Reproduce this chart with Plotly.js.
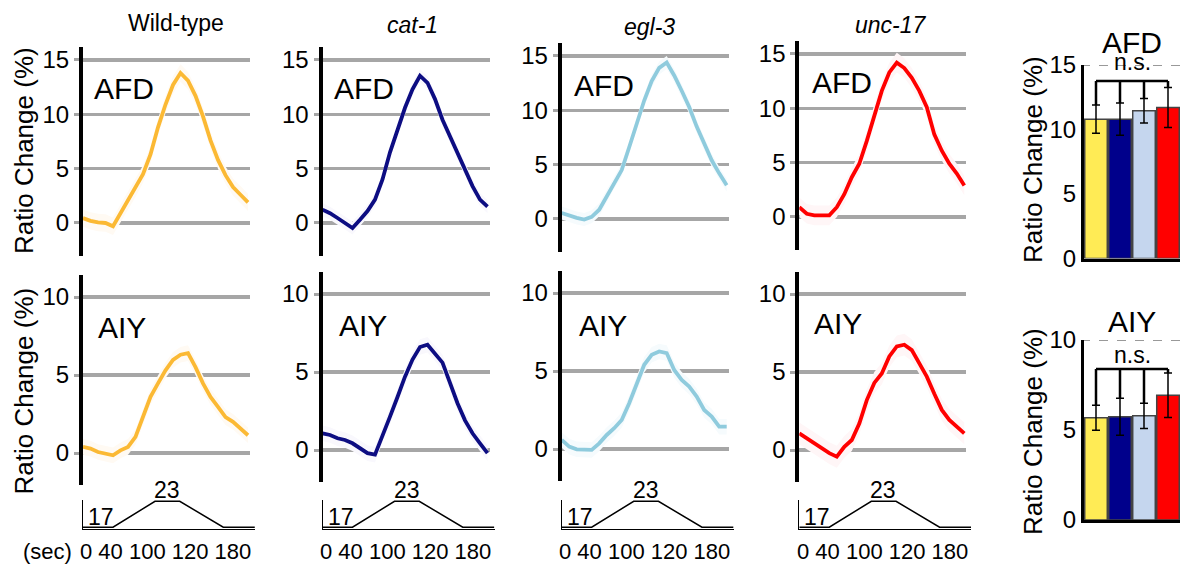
<!DOCTYPE html>
<html><head><meta charset="utf-8">
<script src="https://cdn.plot.ly/plotly-3.0.1.min.js"></script>
<style>html,body{margin:0;padding:0;background:#fff}#chart{width:1182px;height:565px}</style>
</head><body><div id="chart"></div>
<script>
// ---------- data ----------
const groups = ['Wild-type', 'cat-1', 'egl-3', 'unc-17'];
const time = [0,10,20,30,40,50,60,70,80,90,100,110,120,130,140,150,160,170,180,190,200,210,220];
const wtAFD    = [0.45,0.2,0.05,0.0,-0.3,0.9,2.0,3.2,4.5,6.3,8.8,10.9,12.7,13.8,13.1,11.7,9.8,7.6,5.8,4.4,3.3,2.6,1.9];
const cat1AFD  = [1.23,0.9,0.46,0.0,-0.46,0.3,1.1,2.15,4.0,6.5,8.6,10.6,12.3,13.55,12.9,11.4,9.5,8.0,6.5,4.9,3.4,2.15,1.5];
const egl3AFD  = [0.55,0.3,0.1,-0.05,0.2,0.85,2.07,3.4,4.5,6.6,8.8,10.9,12.7,13.9,14.4,13.2,11.8,10.3,8.5,6.9,5.4,4.2,3.1];
const unc17AFD = [0.9,0.3,0.15,0.15,0.15,0.9,2.1,3.66,4.9,7.0,9.45,11.6,13.3,14.2,13.7,12.8,11.6,10.1,7.6,6.1,4.9,4.0,2.9];
const wtAIY    = [0.39,0.28,0.06,-0.04,-0.15,0.17,0.39,1.03,2.3,3.6,4.46,5.3,5.97,6.3,6.4,5.5,4.46,3.6,2.96,2.3,2.0,1.57,1.14];
const cat1AIY  = [1.07,0.96,0.75,0.64,0.43,0.1,-0.2,-0.3,1.0,2.14,3.4,4.7,5.8,6.6,6.75,6.2,5.6,4.3,3.0,1.9,1.07,0.43,-0.2];
const egl3AIY  = [0.58,0.15,-0.02,-0.06,-0.06,0.36,0.9,1.33,1.86,2.93,4.2,5.4,6.04,6.25,6.15,5.07,4.43,4.0,3.36,2.5,2.08,1.43,1.43];
const unc17AIY = [1.07,0.75,0.43,0.1,-0.2,-0.43,0.2,0.64,1.7,3.2,4.3,4.9,6.0,6.64,6.75,6.4,5.57,4.7,3.6,2.57,1.93,1.5,1.07];
const afdSem = [0.8,0.6,0.6,0.9];
const aiySem = [0.5,0.5,0.5,0.7];
const tempTime = [0,40,96,129,187,229];
const tempVal  = [17,17,23,23,17,17];
const afdBar = [10.8,10.8,11.45,11.7];
const afdErr = [1.1,1.25,0.95,1.55];
const aiyBar = [5.68,5.74,5.79,6.93];
const aiyErr = [0.7,1.03,0.7,1.23];
const timeTickText = '0 40 100 120 180';

// ---------- layout helpers ----------
const W = 1182, H = 565;
const px = x => x / W;
const py = y => 1 - y / H;
const FONT = 'Liberation Sans, Arial, Helvetica, sans-serif';
const lineColors = ['#FBB934', '#0D0D82', '#8FCBDD', '#FF0000'];
const haloColors = ['rgb(255,250,243)', 'rgb(249,248,253)', 'rgb(246,251,253)', 'rgb(255,246,247)'];
const barColors = ['#FFEB55', '#00008B', '#C5D6EE', '#FF0000'];
const afdSeries = [wtAFD, cat1AFD, egl3AFD, unc17AFD];
const aiySeries = [wtAIY, cat1AIY, egl3AIY, unc17AIY];
const axX = [83, 322.5, 561.7, 799.3];
const topY0 = [223, 223, 219, 217], topS = 10.87;
const botY0 = [453, 450, 449, 450], botS = 15.6;
const plotW = 167, pxPerSec = 0.75;

const traces = [];
const layout = {
  width: W, height: H, margin: {l:0, r:0, t:0, b:0},
  paper_bgcolor: '#fff', plot_bgcolor: 'rgba(0,0,0,0)',
  showlegend: false, font: {family: FONT, color: '#000'},
  bargap: 0.06, annotations: [], shapes: []
};
let n = 0;
function ann(text, x, y, size, extra) {
  layout.annotations.push(Object.assign({text, x: px(x), y: py(y), xref:'paper', yref:'paper',
    showarrow:false, xanchor:'center', yanchor:'middle', font:{size, family:FONT, color:'#000'}}, extra||{}));
}
function traceYAxis(domainTop, domainBot, range, tickvals, xid) {
  return {domain:[py(domainBot), py(domainTop)], range, anchor:xid, tickvals,
    ticks:'outside', ticklen:5, tickwidth:3, tickcolor:'#a6a6a6',
    showgrid:true, gridcolor:'#a6a6a6', gridwidth:3.5, zeroline:false,
    showline:true, linecolor:'#000', linewidth:4,
    tickfont:{size:24, family:FONT, color:'#000'}, fixedrange:true};
}
function addTrace(series, sem, c, range, y0, s, tickvals) {
  n++;
  const xid = 'x'+n, yid = 'y'+n;
  layout['xaxis'+n] = {domain:[px(axX[c]), px(axX[c]+plotW)], range:[0, plotW/pxPerSec], anchor:yid, visible:false, fixedrange:true};
  layout['yaxis'+n] = traceYAxis(y0 - range[1]*s, y0 - range[0]*s, range, tickvals, xid);
  const up = series.map(v => v + sem), lo = series.map(v => v - sem);
  traces.push({type:'scatter', mode:'lines', x: time.concat(time.slice().reverse()),
    y: up.concat(lo.slice().reverse()), fill:'toself', fillcolor:haloColors[c],
    line:{width:0}, hoverinfo:'skip', xaxis:xid, yaxis:yid});
  traces.push({type:'scatter', mode:'lines', x: time, y: series,
    line:{color:lineColors[c], width:3.8}, xaxis:xid, yaxis:yid});
}
for (let c = 0; c < 4; c++) {
  addTrace(afdSeries[c], afdSem[c], c, [-3, 16.2], topY0[c], topS, [0,5,10,15]);
  addTrace(aiySeries[c], aiySem[c], c, [-2.05, 11.4], botY0[c], botS, [0,5,10]);
  // temperature panel
  n++;
  const xid = 'x'+n, yid = 'y'+n;
  layout['xaxis'+n] = {domain:[px(axX[c]), px(axX[c]+172)], range:[0, 172/pxPerSec], anchor:yid,
    showline:true, linecolor:'#000', linewidth:1.5, showgrid:false, zeroline:false, showticklabels:false, ticks:'', fixedrange:true};
  layout['yaxis'+n] = {domain:[py(528.5), py(500)], range:[16.7, 23.3], anchor:xid,
    showline:true, linecolor:'#000', linewidth:1, showgrid:false, zeroline:false, showticklabels:false, ticks:'', fixedrange:true};
  traces.push({type:'scatter', mode:'lines', x: tempTime, y: tempVal, line:{color:'#000', width:1.5}, xaxis:xid, yaxis:yid});
  ann('17', axX[c]+18, 516.5, 23);
  ann('23', axX[c]+84, 490, 23);
  ann(timeTickText, axX[c]+83, 551, 22);
}
// column titles
ann('Wild-type', 176, 23, 23);
ann('<i>cat-1</i>', 412, 25, 23);
ann('<i>egl-3</i>', 650, 27, 23);
ann('<i>unc-17</i>', 891, 25, 23);
const afdLab = [[124,88],[364,88],[604,85],[842,82]];
const aiyLab = [[122,327],[362.5,325],[602.5,325],[838,323]];
afdLab.forEach(p => ann('AFD', p[0], p[1], 30));
aiyLab.forEach(p => ann('AIY', p[0], p[1], 30));
ann('Ratio Change (%)', 24, 151, 26, {textangle:-90});
ann('Ratio Change (%)', 23, 391.5, 26, {textangle:-90});
ann('(sec)', 47, 551, 22);

// ---------- bar charts ----------
function addBars(vals, errs, title, yTop, yBot, range, tickvals, titleY, nsY, bracketY, ytitleY) {
  n++;
  const xid = 'x'+n, yid = 'y'+n;
  layout['xaxis'+n] = {domain:[px(1084), px(1180)], range:[-0.5, 3.5], anchor:yid,
    showline:true, linecolor:'#000', linewidth:3, showgrid:false, zeroline:false, showticklabels:false, ticks:'', fixedrange:true};
  layout['yaxis'+n] = {domain:[py(yBot), py(yTop)], range, anchor:xid, tickvals,
    showline:true, linecolor:'#000', linewidth:3, showgrid:false, zeroline:false, ticks:'',
    tickfont:{size:24, family:FONT, color:'#000'}, fixedrange:true};
  const idx = vals.map((v,i) => i);
  traces.push({type:'bar', x: idx, y: vals, xaxis:xid, yaxis:yid,
    marker:{color:barColors, line:{color:'#444', width:1.5}},
    error_y:{type:'data', array:errs, visible:true, color:'#000', thickness:1.5, width:4}});
  // n.s. bracket from the bar tops + error
  const bx = [0, idx[idx.length-1]], by = [bracketY, bracketY];
  idx.forEach(i => { bx.push(null, i, i); by.push(null, bracketY, vals[i] + errs[i]); });
  traces.push({type:'scatter', mode:'lines', x: bx, y: by, line:{color:'#000', width:2.5}, xaxis:xid, yaxis:yid, hoverinfo:'skip'});
  layout.shapes.push({type:'line', xref:'paper', x0:px(1081), x1:px(1182), yref:yid, y0:range[1], y1:range[1],
    line:{color:'#999', width:2, dash:'dash'}, layer:'below'});
  ann(title, 1132, titleY, 30);
  ann('n.s.', 1132, nsY, 23);
  ann('Ratio Change (%)', 1033, ytitleY, 26, {textangle:-90});
}
addBars(afdBar, afdErr, 'AFD', 65, 258.5, [0, 15], [0,5,10,15], 43, 62, 13.76, 160);
addBars(aiyBar, aiyErr, 'AIY', 340, 520, [0, 10], [0,5,10], 321, 355, 8.39, 432);

Plotly.newPlot('chart', traces, layout, {staticPlot:true, displayModeBar:false});
</script>
</body></html>
